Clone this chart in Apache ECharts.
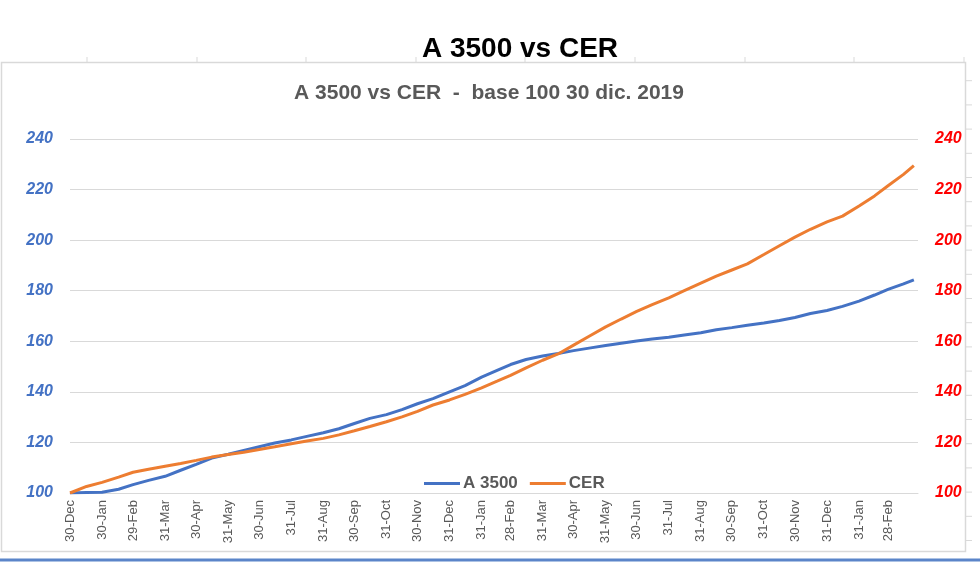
<!DOCTYPE html>
<html>
<head>
<meta charset="utf-8">
<script src="https://cdn.jsdelivr.net/npm/echarts@6/dist/echarts.min.js"></script>
<style>html,body{margin:0;padding:0;background:#fff}#c{width:980px;height:563px}</style>
</head>
<body>
<div id="c"></div>
<script>
const baseDate = '2019-12-30';
const tickDates = ['2019-12-30','2020-01-30','2020-02-29','2020-03-31','2020-04-30','2020-05-31','2020-06-30','2020-07-31','2020-08-31','2020-09-30','2020-10-31','2020-11-30','2020-12-31','2021-01-31','2021-02-28','2021-03-31','2021-04-30','2021-05-31','2021-06-30','2021-07-31','2021-08-31','2021-09-30','2021-10-31','2021-11-30','2021-12-31','2022-01-31','2022-02-28'];
const tickLabels = ['30-Dec','30-Jan','29-Feb','31-Mar','30-Apr','31-May','30-Jun','31-Jul','31-Aug','30-Sep','31-Oct','30-Nov','31-Dec','31-Jan','28-Feb','31-Mar','30-Apr','31-May','30-Jun','31-Jul','31-Aug','30-Sep','31-Oct','30-Nov','31-Dec','31-Jan','28-Feb'];
const dates = ['2019-12-30','2020-01-15','2020-01-30','2020-02-15','2020-02-29','2020-03-15','2020-03-31','2020-04-15','2020-04-30','2020-05-15','2020-05-31','2020-06-15','2020-06-30','2020-07-15','2020-07-31','2020-08-15','2020-08-31','2020-09-15','2020-09-30','2020-10-15','2020-10-31','2020-11-15','2020-11-30','2020-12-15','2020-12-31','2021-01-15','2021-01-31','2021-02-15','2021-02-28','2021-03-15','2021-03-31','2021-04-15','2021-04-30','2021-05-15','2021-05-31','2021-06-15','2021-06-30','2021-07-15','2021-07-31','2021-08-15','2021-08-31','2021-09-15','2021-09-30','2021-10-15','2021-10-31','2021-11-15','2021-11-30','2021-12-15','2021-12-31','2022-01-15','2022-01-31','2022-02-15','2022-02-28','2022-03-15','2022-03-25'];
const a3500 = [100,100.2,100.3,101.5,103.3,105,106.6,109,111.3,113.8,115.3,116.8,118.3,119.8,121,122.4,123.8,125.4,127.5,129.5,131,133,135.3,137.3,140,142.5,145.8,148.5,150.8,152.8,154.2,155.2,156.3,157.3,158.3,159.2,160.1,160.9,161.6,162.5,163.4,164.6,165.4,166.3,167.2,168.2,169.4,171,172.2,173.8,175.9,178.3,180.5,182.7,184.3];
const cer = [100,102.6,104.2,106.3,108.2,109.4,110.6,111.7,112.9,114.2,115.2,116.1,117.2,118.3,119.5,120.6,121.6,123,124.6,126.3,128.2,130.1,132.3,134.8,136.8,139,141.6,144.2,146.5,149.5,152.5,155,158.5,162,165.7,168.8,171.8,174.5,177.2,180,183,185.8,188.2,190.6,194.3,197.8,201.2,204.3,207.2,209.5,213.5,217.5,221.5,226,229.5];
const yTicks = [100,120,140,160,180,200,220,240];

const DAY = 86400000;
const base = Date.parse(baseDate + 'T00:00:00Z');
const off = d => Math.round((Date.parse(d + 'T00:00:00Z') - base) / DAY);
const tickOffsets = tickDates.map(off);
const labelMap = {};
tickOffsets.forEach((o, i) => { labelMap[o] = tickLabels[i]; });
const blueData = dates.map((d, i) => [off(d), a3500[i]]);
const orangeData = dates.map((d, i) => [off(d), cer[i]]);

const chart = echarts.init(document.getElementById('c'), null, {renderer: 'canvas'});

const topTicks = [87,197,306,416,525,635,745,854,964];
const rightTicks = [];
for (let y = 80.7; y < 548; y += 24.2) rightTicks.push(y);
const gfx = [
  {type:'rect', z:0, silent:true, shape:{x:1.5, y:62.5, width:964, height:489}, style:{fill:'none', stroke:'#d9d9d9', lineWidth:1.5}},
  {type:'rect', z:0, silent:true, shape:{x:0, y:558.5, width:980, height:3}, style:{fill:'#5b85c9'}}
];
topTicks.forEach(x => gfx.push({type:'line', silent:true, shape:{x1:x, y1:57, x2:x, y2:62.5}, style:{stroke:'#d9d9d9', lineWidth:1}}));
rightTicks.forEach(y => gfx.push({type:'line', silent:true, shape:{x1:965.5, y1:y, x2:972, y2:y}, style:{stroke:'#d9d9d9', lineWidth:1}}));

chart.setOption({
  animation: false,
  textStyle: {fontFamily: 'Liberation Sans'},
  title: [
    {text: 'A 3500 vs CER', left: 515, top: 30, textAlign: 'center',
     textStyle: {fontSize: 28, fontWeight: 'bold', color: '#000', fontFamily: 'Liberation Sans'}},
    {text: 'A 3500 vs CER  -  base 100 30 dic. 2019', left: 484, top: 78, textAlign: 'center',
     textStyle: {fontSize: 21, fontWeight: 'bold', color: '#595959', fontFamily: 'Liberation Sans'}}
  ],
  legend: {
    left: 419, top: 470, icon: 'rect', itemWidth: 36, itemHeight: 3, itemGap: 12,
    textStyle: {fontSize: 17, fontWeight: 'bold', color: '#595959', padding: [0,0,0,-2]},
    data: ['A 3500', 'CER']
  },
  grid: {left: 70, right: 62, top: 139, bottom: 70, containLabel: false},
  xAxis: {
    type: 'value', min: 0, max: 820,
    axisLine: {show: true, lineStyle: {color: '#d9d9d9', width: 1}},
    axisTick: {show: false},
    splitLine: {show: false},
    axisLabel: {
      customValues: tickOffsets, rotate: 90, margin: 7, fontSize: 13, color: '#595959',
      formatter: v => labelMap[v] || ''
    }
  },
  yAxis: [
    {type: 'value', min: 100, max: 240, interval: 20, position: 'left',
     axisLine: {show: false}, axisTick: {show: false},
     splitLine: {show: true, lineStyle: {color: '#d9d9d9', width: 1}},
     axisLabel: {margin: 17, fontSize: 16, fontStyle: 'italic', fontWeight: 'bold', color: '#4472c4'}},
    {type: 'value', min: 100, max: 240, interval: 20, position: 'right',
     axisLine: {show: false}, axisTick: {show: false}, splitLine: {show: false},
     axisLabel: {margin: 17, fontSize: 16, fontStyle: 'italic', fontWeight: 'bold', color: '#ff0000'}}
  ],
  series: [
    {name: 'A 3500', type: 'line', data: blueData, yAxisIndex: 0, showSymbol: false, symbol: 'none',
     smooth: false, lineStyle: {color: '#4472c4', width: 3}, itemStyle: {color: '#4472c4'}},
    {name: 'CER', type: 'line', data: orangeData, yAxisIndex: 1, showSymbol: false, symbol: 'none',
     smooth: false, lineStyle: {color: '#ed7d31', width: 3}, itemStyle: {color: '#ed7d31'}}
  ],
  graphic: gfx
});
</script>
</body>
</html>
